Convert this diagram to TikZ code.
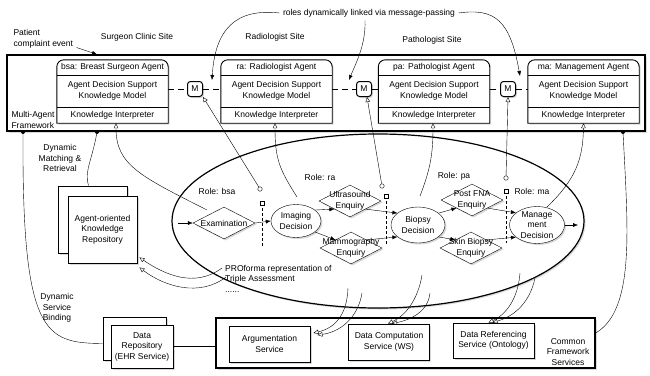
\documentclass[tikz,border=0pt]{standalone}
\usepackage{fontspec}
\setmainfont{Liberation Sans}
\usetikzlibrary{shapes.geometric, arrows.meta, shadows}

\begin{document}
\begin{tikzpicture}[x=1pt, y=-1pt,
    every node/.style={font=\fontsize{8.5}{10.5}\selectfont},
    every label/.style={align=center, inner sep=0pt},
    softshadow/.style={drop shadow={opacity=0.3, shadow xshift=1.5pt, shadow yshift=-1.5pt}},
    frame/.style={draw, line width=1.2pt, fill=white, softshadow, inner sep=0pt},
    agentbody/.style={minimum width=111pt, minimum height=63pt, inner sep=0pt},
    agentline/.style={fill=white, draw, line width=0.9pt, softshadow},
    mbox/.style={draw, fill=white, line width=1pt, rounded corners=3pt, minimum size=15pt, inner sep=0pt, softshadow},
    enq/.style={diamond, draw, fill=white, minimum width=62pt, minimum height=32pt, inner sep=0pt, softshadow},
    dec/.style={ellipse, draw, fill=white, inner sep=0pt, softshadow},
    svc/.style={draw, fill=white, line width=0.9pt, minimum width=81pt, minimum height=36pt, align=center, softshadow},
    sheet/.style={draw, fill=white, line width=0.9pt, softshadow},
    port/.style={draw, fill=white, inner sep=0pt, minimum size=4.5pt},
    knob/.style={port, circle},
    dot/.style={circle, fill, inner sep=0pt, minimum size=4pt},
    flow/.style={-{Latex[length=5pt, width=4pt]}},
    link/.style={-{Triangle[open, length=5pt, width=4.5pt]}},
    msg/.style={dash pattern=on 6pt off 4pt},
    boundary/.style={densely dashed}
]
    \useasboundingbox (0,0) rectangle (650,375);

    % Frames
    \node[frame, minimum width=638pt, minimum height=76pt] (maf) at (326,93) {};
    \node[frame, minimum width=379pt, minimum height=50pt] (cfs) at (405.5,343) {};
    \node[anchor=west, align=left] (mafl) at (8,120) {Multi-Agent\\Framework};
    \node[align=center] (cfsl) at (568,352) {Common\\Framework\\Services};

    % Agents
    \foreach \n/\cx/\t in {bsa/112.5/{bsa: Breast Surgeon Agent}, ra/276.5/{ra: Radiologist Agent},
                           pa/434/{pa: Pathologist Agent}, ma/583.5/{ma: Management Agent}} {
        \node[agentbody] (\n) at (\cx,91.5) {};
        \filldraw[agentline] (\n.south west) -- ([yshift=-7pt]\n.north west)
            arc[start angle=180, end angle=90, radius=7pt] -- ([xshift=-7pt]\n.north east)
            arc[start angle=90, end angle=0, radius=7pt] -- (\n.south east) -- cycle;
        \draw[line width=0.9pt] (\n.west |- 0,75) -- (\n.east |- 0,75);
        \draw[line width=0.9pt] (\n.west |- 0,107) -- (\n.east |- 0,107);
        \node (\n-title) at (\cx,67.5) {\t};
        \node[align=center] (\n-model) at (\cx,91) {Agent Decision Support\\Knowledge Model};
        \node (\n-kip) at (\cx,115) {Knowledge Interpreter};
    }

    % Message-passing links
    \node[mbox] (m1) at (195,89) {M};
    \node[mbox] (m2) at (364,89) {M};
    \node[mbox] (m3) at (508,89) {M};
    \draw[msg] (bsa.east |- m1) -- (m1.west);
    \draw[msg] (m1.east) -- (ra.west |- m1);
    \draw[msg] (ra.east |- m2) -- (m2.west);
    \draw[msg] (m2.east) -- (pa.west |- m2);
    \draw[msg] (pa.east |- m3) -- (m3.west);
    \draw[msg] (m3.east) -- (ma.west |- m3);

    % Top texts
    \node[anchor=north west, align=left] (pce) at (10,26) {Patient\\complaint event};
    \node (scs) at (137,37) {Surgeon Clinic Site};
    \node (rs) at (275,37) {Radiologist Site};
    \node (ps) at (432,40) {Pathologist Site};
    \node (roles) at (369,13) {roles dynamically linked via message-passing};
    \coordinate (l1) at (212,80);
    \coordinate (l2) at (349,80);
    \coordinate (l3) at (520,76);
    \draw[flow] ([yshift=4pt]pce.south east) -- (maf.north -| 97,0);
    \draw[flow] (roles.west) .. controls (235,8) and (215,30) .. (l1);
    \draw[flow] ([xshift=-4pt]roles.south) .. controls (366,45) and (355,65) .. (l2);
    \draw[flow] (roles.east) .. controls (495,8) and (510,20) .. (l3);

    % PROforma representation
    \node[draw, fill=white, ellipse, line width=1.2pt, minimum width=412pt, minimum height=174pt,
          inner sep=0pt, softshadow] (pf) at (378,221) {};
    \node[anchor=north west, align=left, inner sep=0pt] (pfl) at (225,265)
        {PROforma representation of\\Triple Assessment\\......};

    % Repositories
    \node[sheet, minimum width=69pt, minimum height=67pt] (krb) at (92.5,219.5) {};
    \node[sheet, minimum width=69pt, minimum height=67pt, align=center] (krep) at (102.5,229.5)
        {Agent-oriented\\Knowledge\\Repository};
    \node[sheet, minimum width=63pt, minimum height=43pt] (drb) at (134.5,338.5) {};
    \node[sheet, minimum width=62pt, minimum height=43pt, align=center] (dr) at (142,346.5)
        {Data\\Repository\\(EHR Service)};
    \node[align=center] (dmr) at (60,158) {Dynamic\\Matching \&\\Retrieval};
    \node[align=center] (dsb) at (57,308) {Dynamic\\Service\\Binding};

    % Services
    \node[svc] (as) at (269.5,344) {Argumentation\\Service};
    \node[svc] (dc) at (389,342) {Data Computation\\Service (WS)};
    \node[svc, minimum height=35pt] (dref) at (493.5,340.5) {Data Referencing\\Service (Ontology)};

    % Framework connectors
    \node[dot] (d1) at (23,132) {};
    \node[dot] (d2) at (97,132) {};
    \node[dot] (d3) at (623,132) {};
    \draw (d2) .. controls (92,160) and (84,172) .. ([xshift=-4pt]krb.north);
    \draw (d1) .. controls (22,335) and (45,343) .. ([yshift=-5pt]drb.west);
    \draw (dr.east) -- (dr.east -| cfs.west);
    \draw (d3) .. controls (628,230) and (635,310) .. ([yshift=10pt]cfs.east);

    % Roles
    \node (rbsa) at (217,191) {Role: bsa};
    \node (rra) at (320,177) {Role: ra};
    \node (rpa) at (454,176) {Role: pa};
    \node (rma) at (532,191) {Role: ma};
    \coordinate (ebsa) at (207,210);
    \coordinate (era) at (297,197);
    \coordinate (epa) at (420,196);
    \coordinate (ema) at (547,207);
    \draw[link] (ebsa) .. controls (140,176) and (116,165) .. ([xshift=3.5pt]bsa.south);
    \draw[link] (era) .. controls (280,170) and (275,160) .. ([xshift=-1.5pt]ra.south);
    \draw[link] (epa) .. controls (430,170) and (433,155) .. ([xshift=-1pt]pa.south);
    \draw[link] (ema) .. controls (575,180) and (583,160) .. (ma.south);

    % Role boundaries
    \node[knob] (k1) at (260,189) {};
    \node[knob] (k2) at (382,186) {};
    \node[knob] (k3) at (506,178) {};
    \coordinate (q1) at (262,247);
    \coordinate (q2) at (386,245);
    \coordinate (q3) at (506,243);
    \draw[boundary] (262,203) -- (q1);
    \draw[boundary] (386,196) -- (q2);
    \draw[boundary] (506,191) -- (q3);
    \node[port] (p1) at (262,203) {};
    \node[port] (p2) at (386,196) {};
    \node[port] (p3) at (506,191) {};
    \draw[link] (k1) -- (m1.south east);
    \draw[link] (k2) -- ([xshift=3pt]m2.south);
    \draw[link] (k3) -- (m3.south);

    % Tasks
    \node[enq, label=center:Examination] (exam) at (224,223) {};
    \node[dec, minimum width=50pt, minimum height=33pt, label=center:{Imaging\\Decision}] (img) at (296,221) {};
    \node[enq, label=center:{Ultrasound\\Enquiry}] (us) at (350,201) {};
    \node[enq, label=center:{Mammography\\Enquiry}] (mam) at (351,248) {};
    \node[dec, minimum width=54pt, minimum height=36pt, label=center:{Biopsy\\Decision}] (bio) at (418,225) {};
    \node[enq, label=center:{Post FNA\\Enquiry}] (fna) at (472,200) {};
    \node[enq, label=center:{Skin Biopsy\\Enquiry}] (skin) at (471,248) {};
    \node[dec, minimum width=55pt, minimum height=37pt, label=center:{Manage\\ment\\Decision}] (mgmt) at (537,225) {};

    \coordinate (start) at (178,223);
    \coordinate (finish) at (578,225);
    \draw[flow] (start) -- (exam.west);
    \draw[flow] (exam.east) -- (img.west);
    \draw[flow] (img.30) -- (us.south west);
    \draw[flow] (img.-30) -- (mam.north west);
    \draw[flow] (us.south east) -- (bio.150);
    \draw[flow] (mam.north east) -- (bio.210);
    \draw[flow] (bio.30) -- (fna.south west);
    \draw[flow] (bio.-30) -- (skin.north west);
    \draw[flow] (fna.south east) -- (mgmt.150);
    \draw[flow] (skin.north east) -- (mgmt.210);
    \draw[flow] (mgmt.east) -- (finish);

    % Uses of repositories and services
    \coordinate (r1) at (222,268);
    \coordinate (r2) at (226,277);
    \draw[link] (r1) .. controls (195,288) and (165,275) .. ([shift={(2pt,6pt)}]krep.south east);
    \draw[link] (r2) .. controls (200,297) and (165,287) .. ([shift={(2pt,-4pt)}]krep.south east);
    \coordinate (s1) at (348,288);
    \coordinate (s2) at (362,293);
    \coordinate (s3) at (422,275);
    \coordinate (s4) at (430,293);
    \coordinate (s5) at (520,273);
    \coordinate (s6) at (535,278);
    \draw[link] (s1) .. controls (347,315) and (335,328) .. ([shift={(3pt,11pt)}]as.east);
    \draw[link] (s2) .. controls (358,318) and (340,332) .. ([shift={(7pt,9pt)}]as.east);
    \draw[link] (s3) .. controls (418,300) and (405,316) .. ([xshift=-1pt]dc.north);
    \draw[link] (s4) .. controls (428,312) and (410,320) .. ([xshift=3pt]dc.north);
    \draw[link] (s5) .. controls (518,300) and (505,315) .. ([xshift=-5pt]dref.north);
    \draw[link] (s6) .. controls (530,302) and (515,316) .. ([xshift=-1pt]dref.north);

\end{tikzpicture}
\end{document}
